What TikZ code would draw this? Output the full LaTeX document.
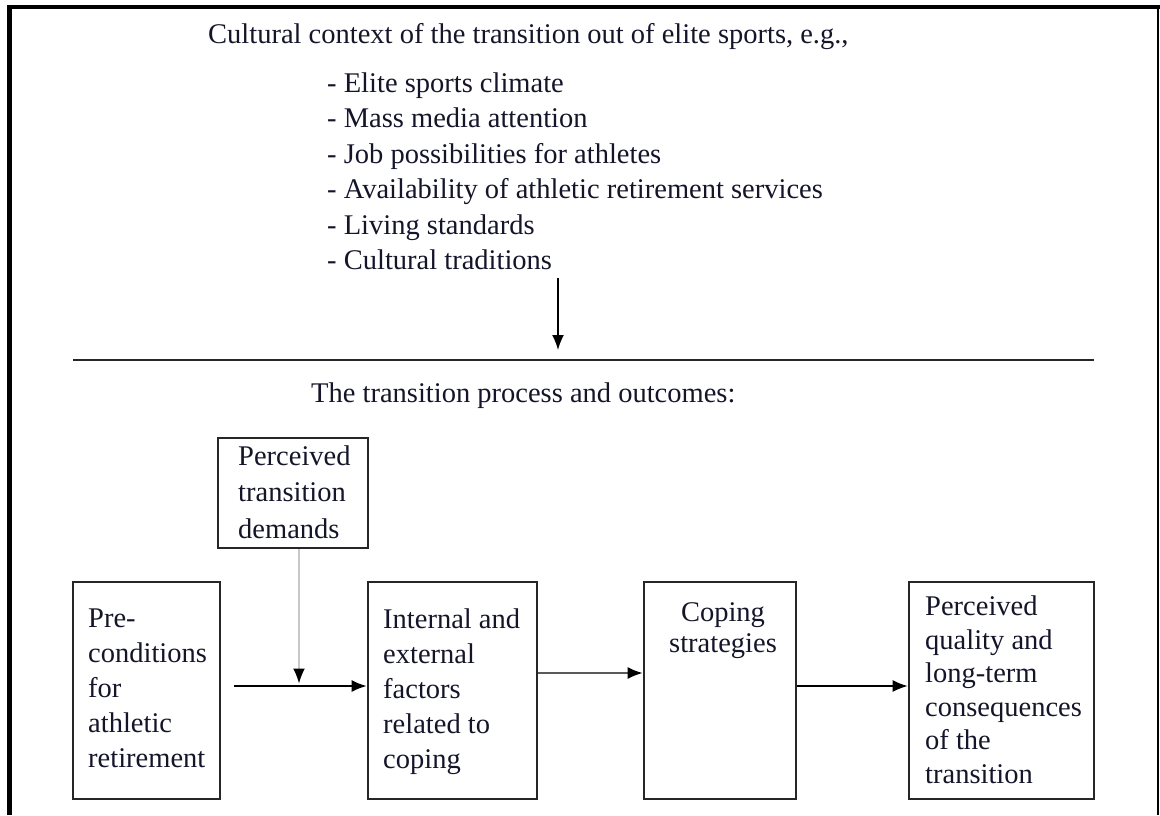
\documentclass[tikz,border=0pt]{standalone}
\usepackage{fontspec}
\setmainfont{Liberation Serif}
\usetikzlibrary{arrows.meta}
\definecolor{boxc}{HTML}{262626}
\definecolor{txtc}{HTML}{15152A}
\begin{document}
\begin{tikzpicture}[x=1pt,y=-1pt,
  every node/.style={inner sep=0pt, text=txtc},
  fs/.style={font=\fontsize{28.5}{#1}\selectfont},
  box/.style={draw=boxc, line width=2.6pt, rectangle},
  txt/.style={align=left, anchor=north west},
  tip/.style={-{Latex[length=15pt,width=12pt,color=black]}},
  arr/.style={tip, line width=1.8pt, draw=black}]
\useasboundingbox (0,0) rectangle (1160,815);
% outer frame
\draw[line width=4.5pt, black] (9.5,815) -- (9.5,7) -- (1160,7);
\draw[line width=1.5pt, black] (1158,7) -- (1158,815);

% header
\node[fs=35, anchor=base west] (head) at (208,43) {Cultural context of the transition out of elite sports, e.g.,};
\node[fs=35.5, txt] (list) at (327,72.5) {- Elite sports climate\\- Mass media attention\\- Job possibilities for athletes\\- Availability of athletic retirement services\\- Living standards\\- Cultural traditions};
\coordinate (a1) at (558,278);
\coordinate (a2) at (558,360);
\draw[arr, line width=1.6pt, shorten >=10pt] (a1) -- (a2);

% separator
\coordinate (sepL) at (73,360);
\coordinate (sepR) at (1094,360);
\draw[line width=2.2pt, boxc] (sepL) -- (sepR);
\node[fs=35, anchor=base west] (proc) at (311,402) {The transition process and outcomes:};

% boxes
\node[box, minimum width=150pt, minimum height=110pt] (dem) at (293,493) {};
\node[fs=36.5, txt] (demt) at (238,445.5) {Perceived\\transition\\demands};

\node[box, minimum width=147pt, minimum height=217pt] (pre) at (146.5,690.5) {};
\node[fs=35, txt] (pret) at (88,608.5) {Pre-\\conditions\\for\\athletic\\retirement};

\node[box, minimum width=169pt, minimum height=217pt] (int) at (452.5,690.5) {};
\node[fs=35, txt] (intt) at (383,608.5) {Internal and\\external\\factors\\related to\\coping};

\node[box, minimum width=152pt, minimum height=217pt] (cop) at (720,690.5) {};
\node[fs=31, align=center, anchor=north] (copt) at (723,602.5) {Coping\\strategies};

\node[box, minimum width=185pt, minimum height=217pt] (qual) at (1001.5,690.5) {};
\node[fs=33.6, txt] (qualt) at (925,595.5) {Perceived\\quality and\\long-term\\consequences\\of the\\transition};

% connectors
\coordinate (j) at (299,686);
\draw[arr, shorten <=13pt] (pre.east |- j) -- (int.west |- j);
\draw[tip, line width=1.6pt, draw={rgb,255:red,200;green,200;blue,200}, shorten >=2.5pt] (dem.south -| j) -- (j);
\draw[tip, line width=1.8pt, draw={rgb,255:red,90;green,90;blue,90}] ([yshift=17.5pt]int.east) -- ([yshift=17.5pt]cop.west);
\draw[arr, line width=1.6pt] ([yshift=4.5pt]cop.east) -- ([yshift=4.5pt]qual.west);
\end{tikzpicture}
\end{document}
